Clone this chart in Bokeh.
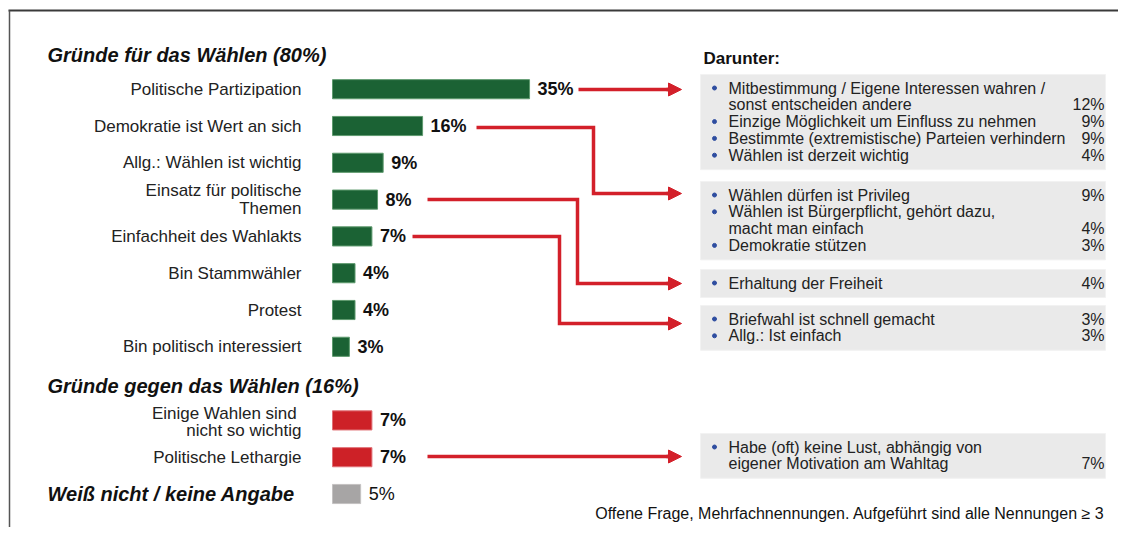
from bokeh.plotting import figure
from bokeh.models import Range1d, Arrow, NormalHead
from bokeh.core.properties import value
from bokeh.embed import file_html
from bokeh.resources import INLINE

# ---------------- data ----------------
title_for = "Gründe für das Wählen (80%)"
title_against = "Gründe gegen das Wählen (16%)"
title_dk = "Weiß nicht / keine Angabe"

cats_for = ["Politische Partizipation", "Demokratie ist Wert an sich",
            "Allg.: Wählen ist wichtig", "Einsatz für politische\nThemen",
            "Einfachheit des Wahlakts", "Bin Stammwähler", "Protest",
            "Bin politisch interessiert"]
vals_for = [35, 16, 9, 8, 7, 4, 4, 3]

cats_against = ["Einige Wahlen  sind\nnicht so wichtig", "Politische Lethargie"]
vals_against = [7, 7]

val_dk = 5

detail_title = "Darunter:"
box1 = [("Mitbestimmung / Eigene Interessen wahren /\nsonst entscheiden andere", 12),
        ("Einzige Möglichkeit um Einfluss zu nehmen", 9),
        ("Bestimmte (extremistische) Parteien verhindern", 9),
        ("Wählen ist derzeit wichtig", 4)]
box2 = [("Wählen dürfen ist Privileg", 9),
        ("Wählen ist Bürgerpflicht, gehört dazu,\nmacht man einfach", 4),
        ("Demokratie stützen", 3)]
box3 = [("Erhaltung der Freiheit", 4)]
box4 = [("Briefwahl ist schnell gemacht", 3),
        ("Allg.: Ist einfach", 3)]
box5 = [("Habe (oft) keine Lust, abhängig von\neigener Motivation am Wahltag", 7)]
boxes = [box1, box2, box3, box4, box5]

note = "Offene Frage, Mehrfachnennungen. Aufgeführt sind alle Nennungen ≥ 3"

# ---------------- style / layout ----------------
FONT = value("Liberation Sans")
GREEN, GREEN_EDGE = "#1B6234", "#5E9A6E"
RED, RED_EDGE = "#CD2127", "#E07076"
GREY, GREY_EDGE = "#A7A5A5", "#C4C2C2"
ARROW = "#D3202A"
BOXFILL = "#EAEAEA"
BULLET = "#2E4DA0"

W, H = 1118, 527
ROW0, ROWSTEP = 88.7, 36.8     # pixel centre of row 1 and row spacing
PX_PER_PCT, BAR_X0 = 5.63, 332

p = figure(width=W, height=H, x_range=Range1d(0, W), y_range=Range1d(H, 0),
           output_backend="svg", toolbar_location=None, min_border=0,
           x_axis_location=None, y_axis_location=None)
p.grid.visible = False
p.outline_line_color = None
p.background_fill_color = "white"
p.border_fill_color = "white"

p.extra_x_ranges = {"pct": Range1d((0 - BAR_X0) / PX_PER_PCT, (W - BAR_X0) / PX_PER_PCT)}
p.extra_y_ranges = {"row": Range1d(1 + (H - ROW0) / ROWSTEP, 1 + (0 - ROW0) / ROWSTEP)}

# frame lines
p.segment(x0=[8, 9], y0=[10, 10], x1=[W, 9], y1=[10, H],
          line_color=["#3A3A3A", "#555555"], line_width=[2, 1.5])

rows_for = list(range(1, len(vals_for) + 1))
rows_against = [len(vals_for) + 2 + i for i in range(len(vals_against))]
row_dk = rows_against[-1] + 1

def bars(rows, vals, fill, edge):
    p.hbar(y=rows, left=0, right=vals, height=0.52, fill_color=fill,
           line_color=edge, line_width=1, x_range_name="pct", y_range_name="row")

bars(rows_for, vals_for, GREEN, GREEN_EDGE)
bars(rows_against, vals_against, RED, RED_EDGE)
bars([row_dk], [val_dk], GREY, GREY_EDGE)

def vlabels(rows, vals, style):
    p.text(x=vals, y=rows, text=[f"{v}%" for v in vals], x_offset=8,
           text_font=FONT, text_font_size=value("18px"), text_font_style=style,
           text_color="#111111", text_baseline="middle", text_align="left",
           x_range_name="pct", y_range_name="row")

vlabels(rows_for, vals_for, "bold")
vlabels(rows_against, vals_against, "bold")
vlabels([row_dk], [val_dk], "normal")

# category labels (multi-line split manually)
lx, ly, lt = [], [], []
for rows, cats, gap in ((rows_for, cats_for, 18.0), (rows_against, cats_against, 17.0)):
    for r, c in zip(rows, cats):
        parts = c.split("\n")
        n = len(parts)
        for k, s in enumerate(parts):
            lx.append(301)
            ly.append(r + ((k - (n - 1) / 2) * gap + (1.5 if n > 1 and gap < 18 else 0)) / ROWSTEP)
            lt.append(s)
p.text(x=lx, y=ly, text=lt, text_font=FONT, text_font_size=value("17px"),
       text_color="#222222", text_align="right", text_baseline="middle", y_range_name="row")

# section titles
p.text(x=[47, 47, 47], y=[54, 385, 493], text=[title_for, title_against, title_dk],
       text_font=FONT, text_font_size=value("20px"), text_font_style="bold italic",
       text_color="#111111", text_align="left", text_baseline="middle")

# detail title
p.text(x=[703], y=[58], text=[detail_title], text_font=FONT, text_font_size=value("17px"),
       text_font_style="bold", text_color="#111111", text_baseline="middle")

# detail boxes
box_tops = [74, 181, 269, 305, 433]
LINE = 16.8
bl, br, bt, bb = [], [], [], []
tx, ty, tt = [], [], []
px_, py_, pt_ = [], [], []
dx, dy = [], []
for top, items in zip(box_tops, boxes):
    y = top + 13.5
    for text, pct in items:
        parts = text.split("\n")
        dx.append(714); dy.append(y)
        for s in parts:
            tx.append(728); ty.append(y); tt.append(s)
            y += LINE
        px_.append(1104); py_.append(y - LINE); pt_.append(f"{pct}%")
    bl.append(700); br.append(1105); bt.append(top); bb.append(y - LINE + 14.5)

p.quad(left=bl, right=br, top=bt, bottom=bb, fill_color=BOXFILL, line_color="#F2F2F2", line_width=1)
p.scatter(x=dx, y=dy, size=4, marker="circle", fill_color=BULLET, line_color=BULLET)
p.text(x=tx, y=ty, text=tt, text_font=FONT, text_font_size=value("16px"),
       text_color="#222222", text_align="left", text_baseline="middle")
p.text(x=px_, y=py_, text=pt_, text_font=FONT, text_font_size=value("16px"),
       text_color="#222222", text_align="right", text_baseline="middle")

# connector arrows
paths_x = [[578, 670], [476, 593, 593, 670], [427, 577, 577, 670], [412, 559, 559, 670], [427, 670]]
paths_y = [[89, 89], [127, 127, 193, 193], [199, 199, 283, 283], [236, 236, 323, 323], [456, 456]]
p.multi_line(xs=paths_x, ys=paths_y, line_color=ARROW, line_width=3.5, line_join="miter")
for xs, ys in zip(paths_x, paths_y):
    p.add_layout(Arrow(end=NormalHead(size=13, fill_color=ARROW, line_color=ARROW, line_width=1),
                       x_start=xs[-1] - 4, y_start=ys[-1], x_end=681, y_end=ys[-1],
                       line_color=ARROW, line_width=3.5))

# footnote
p.text(x=[1104], y=[513], text=[note], text_font=FONT, text_font_size=value("16px"),
       text_color="#111111", text_align="right", text_baseline="middle")

open("out.html", "w").write(file_html(p, INLINE))
